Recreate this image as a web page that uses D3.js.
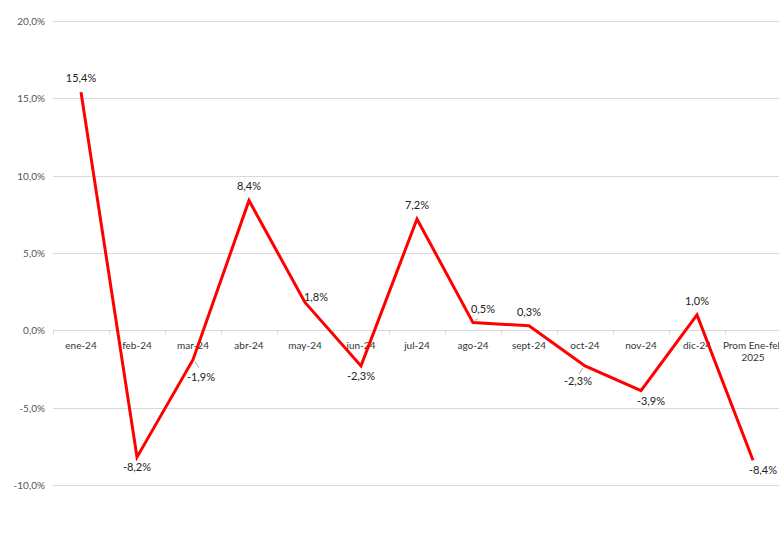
<!DOCTYPE html>
<html>
<head>
<meta charset="utf-8">
<script src="https://cdn.jsdelivr.net/npm/d3@7"></script>
<style>
  body { margin: 0; background: #fff; overflow: hidden; }
  text { font-family: "Lato", "Open Sans", sans-serif; fill: #222; }
</style>
</head>
<body>
<script>
let w = 779;
let h = 538;

// data
const categories = ["ene-24", "feb-24", "mar-24", "abr-24", "may-24", "jun-24", "jul-24",
  "ago-24", "sept-24", "oct-24", "nov-24", "dic-24", "Prom Ene-feb 2025"];
const values = [15.4, -8.2, -1.9, 8.4, 1.8, -2.3, 7.2, 0.5, 0.3, -2.3, -3.9, 1.0, -8.4];
const yTicks = [-10, -5, 0, 5, 10, 15, 20];
// where each data label sits relative to its point
const labelSpots = ["above", "below", "leaderBelowRight", "above", "right", "below", "above",
  "leaderAboveRight", "above", "leaderBelowLeft", "lowRight", "above", "lowRight"];

const fmt = (v) => v.toFixed(1).replace(".", ",") + "%";

let svg = d3.select("body").append("svg").attr("width", w).attr("height", h);

let xScale = d3.scaleBand()
  .domain(categories)
  .range([53, 781])
  .paddingInner(0)
  .paddingOuter(0);

let yScale = d3.scaleLinear()
  .domain([-10, 20])
  .range([485, 21]);

// cut-off subtitle at the top
svg.append("text")
  .attr("x", 14)
  .attr("y", -3)
  .attr("font-size", "12px")
  .text("(variación porcentual mensual)");

// grid
svg.append("g")
  .selectAll("line")
  .data(yTicks)
  .enter()
  .append("line")
  .attr("x1", 53)
  .attr("x2", w)
  .attr("y1", (d) => Math.round(yScale(d)) + 0.5)
  .attr("y2", (d) => Math.round(yScale(d)) + 0.5)
  .attr("stroke", "#d9d9d9")
  .attr("stroke-width", 1);

// y labels
svg.append("g")
  .selectAll("text")
  .data(yTicks)
  .enter()
  .append("text")
  .attr("x", 45)
  .attr("y", (d) => yScale(d) + 4)
  .attr("text-anchor", "end")
  .attr("font-size", "10px")
  .style("fill", "#555")
  .text((d) => d.toFixed(1).replace(".", ",") + "%");

// category tick marks on zero line
const y0 = Math.round(yScale(0)) + 0.5;
svg.append("g")
  .selectAll("line")
  .data(categories)
  .enter()
  .append("line")
  .attr("x1", (d) => Math.round(xScale(d)) + 0.5)
  .attr("x2", (d) => Math.round(xScale(d)) + 0.5)
  .attr("y1", y0)
  .attr("y2", y0 + 4)
  .attr("stroke", "#d9d9d9");

// category labels
let catLabels = svg.append("g")
  .selectAll("text")
  .data(categories)
  .enter()
  .append("text")
  .attr("text-anchor", "middle")
  .attr("font-size", "10px")
  .style("fill", "#333");

catLabels.each(function (d) {
  const cx = xScale(d) + xScale.bandwidth() / 2;
  const t = d3.select(this);
  if (d.startsWith("Prom")) {
    t.append("tspan").attr("x", cx).attr("y", y0 + 18).text("Prom Ene-feb");
    t.append("tspan").attr("x", cx).attr("y", y0 + 30).text("2025");
  } else {
    t.attr("x", cx).attr("y", y0 + 18).text(d);
  }
});

// line
const pts = categories.map((c, i) => ({ c: c, v: values[i], spot: labelSpots[i] }));
const line = d3.line()
  .x((d) => xScale(d.c) + xScale.bandwidth() / 2)
  .y((d) => yScale(d.v));

svg.append("path")
  .datum(pts)
  .attr("d", line)
  .attr("fill", "none")
  .attr("stroke", "#ff0000")
  .attr("stroke-width", 3)
  .attr("stroke-linejoin", "miter");

// data labels: [text dx, text dy, leader end dx, leader end dy]
const offsets = {
  above: [0, -10],
  below: [0, 14],
  right: [11, -1],
  lowRight: [10, 14],
  leaderBelowRight: [8, 21, 6, 8],
  leaderAboveRight: [10, -10, 5, -4],
  leaderBelowLeft: [-7, 19, -6, 8]
};

pts.forEach((d) => {
  const px = xScale(d.c) + xScale.bandwidth() / 2;
  const py = yScale(d.v);
  const off = offsets[d.spot];
  if (off.length > 2) {
    svg.append("line")
      .attr("x1", px + Math.sign(off[2]) * 2)
      .attr("y1", py + Math.sign(off[3]) * 2)
      .attr("x2", px + off[2])
      .attr("y2", py + off[3])
      .attr("stroke", "#a6a6a6")
      .attr("stroke-width", 1);
  }
  svg.append("text")
    .attr("x", px + off[0])
    .attr("y", py + off[1])
    .attr("text-anchor", "middle")
    .attr("font-size", "11px")
    .style("fill", "#222")
    .text(fmt(d.v));
});
</script>
</body>
</html>
